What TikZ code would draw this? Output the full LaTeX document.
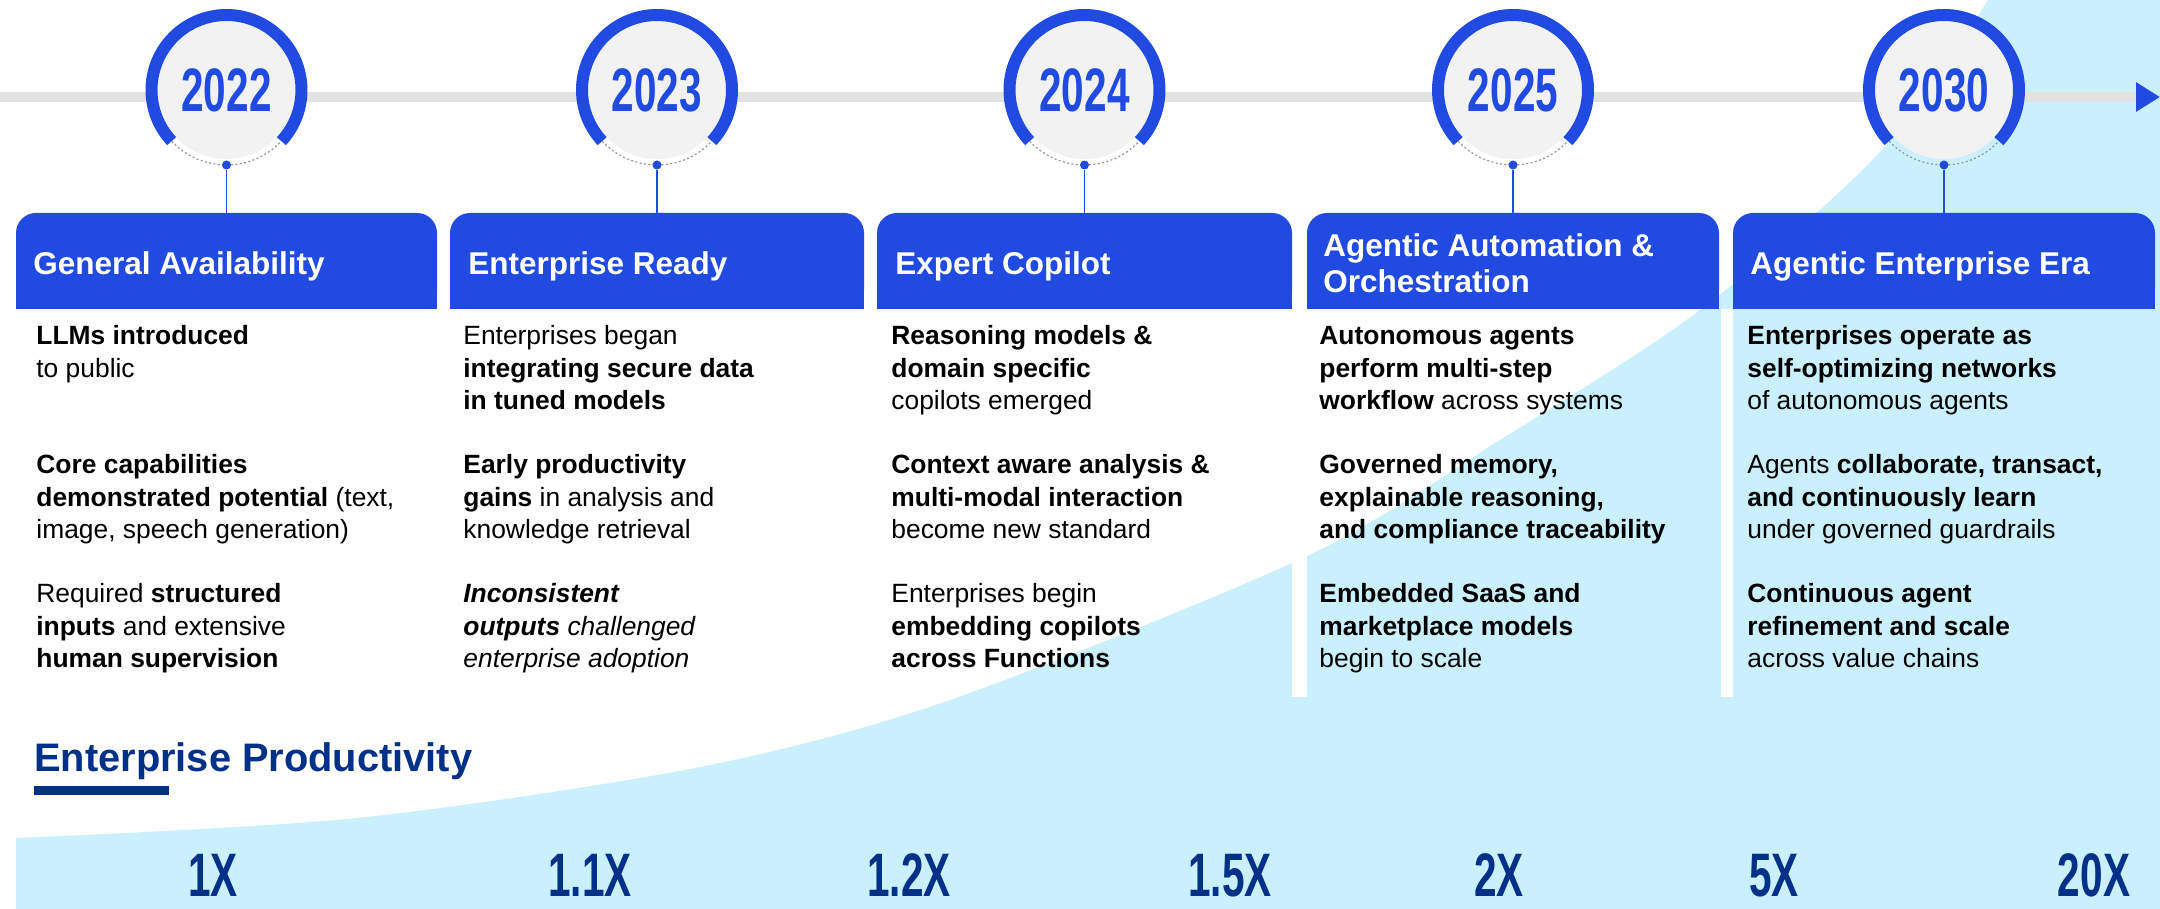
\documentclass[tikz,border=0pt]{standalone}
\usepackage{fontspec}
\setmainfont{Liberation Sans}
\newfontfamily\numfont[FakeStretch=0.66]{Liberation Sans}
\usetikzlibrary{positioning,arrows.meta}

\definecolor{ringblue}{RGB}{33,74,225}
\definecolor{skyfill}{RGB}{203,240,253}
\definecolor{navyblue}{RGB}{0,48,135}
\definecolor{railgrey}{RGB}{226,226,226}
\definecolor{diskgrey}{RGB}{242,242,242}
\definecolor{dotgrey}{RGB}{150,150,150}

\begin{document}
\begin{tikzpicture}[x=0.5pt,y=0.5pt]
    \tikzset{
        yeardisk/.style={circle, fill=diskgrey, minimum size=69pt, inner sep=0pt,
            text=ringblue, font=\numfont\bfseries\fontsize{30.7pt}{32pt}\selectfont},
        ring/.style={ringblue, line width=6pt},
        ringgap/.style={dotgrey, line width=0.6pt, dash pattern=on 1pt off 1.2pt},
        knob/.style={circle, fill=ringblue, minimum size=4.5pt, inner sep=0pt},
        stem/.style={ringblue, line width=0.75pt},
        hdbox/.style={rectangle, fill=ringblue, rounded corners=10pt, minimum height=48pt, inner sep=0pt},
        hdtext/.style={anchor=base west, inner sep=0pt, text=white,
            font=\bfseries\fontsize{15.75pt}{18pt}\selectfont},
        bodytext/.style={anchor=base west, inner sep=0pt,
            font=\fontsize{13.2pt}{16.125pt}\selectfont},
        rail/.style={railgrey, line width=5pt, -{Triangle[length=12pt, width=14pt, color=ringblue]}},
        prodtitle/.style={anchor=base west, inner sep=0pt, text=navyblue,
            font=\bfseries\fontsize{19.9pt}{24pt}\selectfont},
        gain/.style={anchor=base, inner sep=0pt, text=navyblue,
            font=\numfont\bfseries\fontsize{30.7pt}{32pt}\selectfont}
    }

    \path[use as bounding box, fill=white] (0,0) rectangle (2160,-909);

    % rising productivity area
    \fill[skyfill] (16,-909) -- plot[smooth, tension=0.5] coordinates {(16,-838) (357,-818) (700,-767)
        (950,-700) (1305,-557) (1500,-440) (1700,-310) (1881,-151) (1988,0)}
        -- (2160,0) -- (2160,-909) -- cycle;
    \foreach \a/\b in {437/450, 864/877, 1292/1307, 1721/1733}
        \fill[white] (\a,-309) rectangle (\b,-697);

    \coordinate (rail start) at (0,-97);
    \coordinate (rail end) at (2160,-97);
    \draw[rail] (rail start) -- (rail end);

    \foreach \L/\R/\yr/\hx/\hy/\hd [count=\i] in {
        16/437/2022/33/275/{General Availability},
        450/864/2023/468/275/{Enterprise Ready},
        877/1292/2024/895/275/{Expert Copilot},
        1307/1719/2025/1323/257/{Agentic Automation \&\\Orchestration},
        1733/2155/2030/1750/275/{Agentic Enterprise Era}}
    {
        \node[yeardisk] (y\i) at ({(\L+\R)/2},-90) {\yr};
        \draw[ring] ([shift={(-43:37.5pt)}]y\i.center) arc[start angle=-43, end angle=223, radius=37.5pt];
        \draw[ringgap] ([shift={(223:37.5pt)}]y\i.center) arc[start angle=223, end angle=317, radius=37.5pt];
        \node[knob] (k\i) at ([yshift=-37.5pt]y\i.center) {};
        \node[hdbox, minimum width={(\R-\L)*0.5pt}] (h\i) at ({(\L+\R)/2},-261) {};
        \fill[ringblue] (h\i.west) rectangle (h\i.south east);
        \draw[stem] (k\i) -- (h\i.north);
        \node[hdtext] (t\i) at (\hx,-\hy) {\begin{minipage}[t]{195pt}\raggedright\hd\end{minipage}};
    }

    \node[bodytext] (b1) at (36,-345) {\begin{minipage}[t]{200pt}\raggedright
        \textbf{LLMs introduced}\\
        to public\\[32.25pt]
        \textbf{Core capabilities}\\
        \textbf{demonstrated potential} (text,\\
        image, speech generation)\\[16.125pt]
        Required \textbf{structured}\\
        \textbf{inputs} and extensive\\
        \textbf{human supervision}
    \end{minipage}};
    \node[bodytext] (b2) at (463,-345) {\begin{minipage}[t]{200pt}\raggedright
        Enterprises began\\
        \textbf{integrating secure data}\\
        \textbf{in tuned models}\\[16.125pt]
        \textbf{Early productivity}\\
        \textbf{gains} in analysis and\\
        knowledge retrieval\\[16.125pt]
        \textit{\textbf{Inconsistent}}\\
        \textit{\textbf{outputs} challenged}\\
        \textit{enterprise adoption}
    \end{minipage}};
    \node[bodytext] (b3) at (891,-345) {\begin{minipage}[t]{200pt}\raggedright
        \textbf{Reasoning models \&}\\
        \textbf{domain specific}\\
        copilots emerged\\[16.125pt]
        \textbf{Context aware analysis \&}\\
        \textbf{multi-modal interaction}\\
        become new standard\\[16.125pt]
        Enterprises begin\\
        \textbf{embedding copilots}\\
        \textbf{across Functions}
    \end{minipage}};
    \node[bodytext] (b4) at (1319,-345) {\begin{minipage}[t]{200pt}\raggedright
        \textbf{Autonomous agents}\\
        \textbf{perform multi-step}\\
        \textbf{workflow} across systems\\[16.125pt]
        \textbf{Governed memory,}\\
        \textbf{explainable reasoning,}\\
        \textbf{and compliance traceability}\\[16.125pt]
        \textbf{Embedded SaaS and}\\
        \textbf{marketplace models}\\
        begin to scale
    \end{minipage}};
    \node[bodytext] (b5) at (1747,-345) {\begin{minipage}[t]{200pt}\raggedright
        \textbf{Enterprises operate as}\\
        \textbf{self-optimizing networks}\\
        of autonomous agents\\[16.125pt]
        Agents \textbf{collaborate, transact,}\\
        \textbf{and continuously learn}\\
        under governed guardrails\\[16.125pt]
        \textbf{Continuous agent}\\
        \textbf{refinement and scale}\\
        across value chains
    \end{minipage}};

    \node[prodtitle] (prod) at (34,-771) {Enterprise Productivity};
    \fill[navyblue] ([yshift=-7.5pt]prod.base west) rectangle ++(67.5pt,-4.5pt);

    \foreach \x/\m [count=\j] in {213/1X, 590/1.1X, 909/1.2X, 1230/1.5X, 1499/2X, 1774/5X, 2094/20X}
        \node[gain] (g\j) at (\x,-896) {\m};
\end{tikzpicture}
\end{document}
